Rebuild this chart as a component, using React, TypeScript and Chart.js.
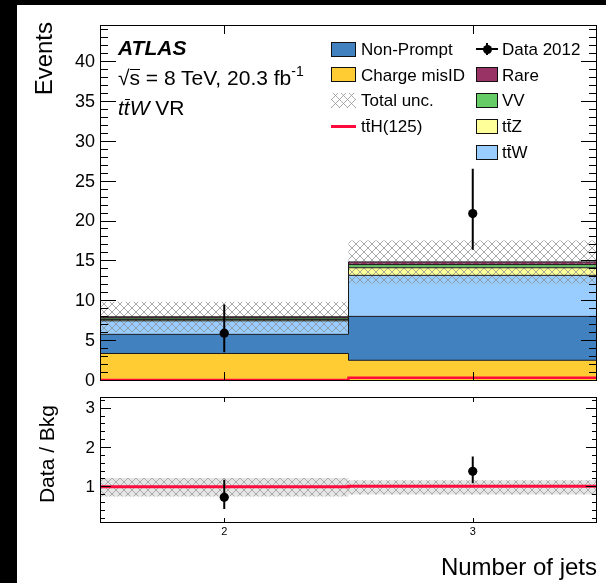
import React, { useEffect, useRef } from 'react';
import { Chart, registerables } from 'chart.js';

Chart.register(...registerables);

// Jet-multiplicity bins
const jetBins = [2, 3];
const binEdges = [1.5, 2.5, 3.5];
const xTickLabels = ['2', '3'];

// Expected events per bin, listed from the bottom of the stack upwards
const chargeMisID = [3.45, 2.6];
const nonPrompt = [2.4, 5.5];
const ttW = [1.7, 5.15];
const ttZ = [0.15, 0.95];
const diboson = [0.2, 0.4];
const rare = [0.15, 0.33];

// ttH(125) signal (not stacked) and total background uncertainty
const ttH125 = [0.12, 0.42];
const totalUnc = [1.9, 2.7];

// Data 2012 with asymmetric Poisson errors
const data2012 = [6, 21];
const dataErrUp = [3.58, 5.62];
const dataErrDown = [2.38, 4.55];

const FONT = "'Liberation Sans', Arial, Helvetica, sans-serif";
const stackSeries = [chargeMisID, nonPrompt, ttW, ttZ, diboson, rare];
const stackColours = ['#ffcc33', '#4281c0', '#99ccff', '#ffff99', '#66cc66', '#993366'];
const TTH_RED = '#ff0a3c';

// histogram step outline: one point per lower bin edge plus the last upper edge
const steps = (vals: number[]) => [
  ...vals.map((v, i) => ({ x: binEdges[i], y: v })),
  { x: binEdges[binEdges.length - 1], y: vals[vals.length - 1] },
];

// vertical error bars, separated by gaps
const errorBars = (centre: number[], lo: number[], hi: number[]) => {
  const pts: any[] = [];
  centre.forEach((c, i) => {
    pts.push({ x: c, y: lo[i] }, { x: c, y: hi[i] }, { x: c + 0.01, y: null });
  });
  return pts;
};

function makeHatch(line: string, bg: string | null) {
  const c = document.createElement('canvas');
  c.width = 8;
  c.height = 8;
  const g = c.getContext('2d')!;
  if (bg) {
    g.fillStyle = bg;
    g.fillRect(0, 0, 8, 8);
  }
  g.strokeStyle = line;
  g.lineWidth = 1;
  g.beginPath();
  for (const d of [-8, 0, 8]) {
    g.moveTo(d - 1, -1);
    g.lineTo(d + 9, 9);
    g.moveTo(d + 9, -1);
    g.lineTo(d - 1, 9);
  }
  g.stroke();
  return g.createPattern(c, 'repeat')!;
}

// axes sized by hand so the plot frame lands where it should
const fixWidth = (w: number) => (s: any) => {
  s.width = w;
  s.paddingTop = 0;
  s.paddingBottom = 0;
  s.paddingLeft = 0;
  s.paddingRight = 0;
};
const fixHeight = (h: number) => (s: any) => {
  s.height = h;
  s.paddingTop = 0;
  s.paddingBottom = 0;
  s.paddingLeft = 0;
  s.paddingRight = 0;
};

// frame with inward-pointing major/minor ticks on all four sides
const frameTicks = {
  id: 'frameTicks',
  afterDatasetsDraw(chart: any, _a: any, o: any) {
    const { ctx, chartArea: a, scales } = chart;
    const x = scales.x;
    const y = scales.y;
    ctx.save();
    ctx.strokeStyle = '#000';
    ctx.lineWidth = 1;
    ctx.beginPath();
    const per = Math.round(o.yMajor / o.yMinor);
    const n0 = Math.ceil(y.min / o.yMinor - 1e-9);
    const n1 = Math.floor(y.max / o.yMinor + 1e-9);
    for (let n = n0; n <= n1; n++) {
      const py = Math.round(y.getPixelForValue(n * o.yMinor)) - 0.5;
      const len = n % per === 0 ? o.yMajorLen : o.yMinorLen;
      ctx.moveTo(a.left, py);
      ctx.lineTo(a.left + len, py);
      ctx.moveTo(a.right, py);
      ctx.lineTo(a.right - len, py);
    }
    for (const v of o.xTicks) {
      const px = Math.round(x.getPixelForValue(v)) + 0.5;
      ctx.moveTo(px, a.bottom);
      ctx.lineTo(px, a.bottom - o.xLen);
      ctx.moveTo(px, a.top);
      ctx.lineTo(px, a.top + o.xLen);
    }
    ctx.stroke();
    ctx.strokeRect(a.left + 0.5, a.top + 0.5, a.right - a.left - 1, a.bottom - a.top - 1);
    ctx.restore();
  },
};

// rotated y-axis title anchored at its top end
const sideTitle = {
  id: 'sideTitle',
  afterDraw(chart: any, _a: any, o: any) {
    if (!o || !o.text) return;
    const { ctx } = chart;
    ctx.save();
    ctx.translate(o.x, o.top);
    ctx.rotate(-Math.PI / 2);
    ctx.font = `${o.size}px ${FONT}`;
    ctx.fillStyle = '#000';
    ctx.textAlign = 'right';
    ctx.textBaseline = 'middle';
    ctx.fillText(o.text, 0, 0);
    ctx.restore();
  },
};

const Bar = ({ children, shift = 0 }: any) => (
  <span style={{ position: 'relative', display: 'inline-block' }}>
    {children}
    <span
      style={{
        position: 'absolute',
        left: `${8 + shift}%`,
        right: `${4 - shift}%`,
        top: '0.08em',
        borderTop: '1.2px solid #000',
      }}
    />
  </span>
);

export default function App() {
  const mainRef = useRef<HTMLCanvasElement>(null);
  const ratioRef = useRef<HTMLCanvasElement>(null);

  useEffect(() => {
    const hatch = makeHatch('rgba(140,140,140,0.75)', null);
    const hatchRatio = makeHatch('rgba(160,160,160,0.85)', 'rgba(220,220,220,0.75)');

    // cumulative stack heights
    const cumulative: number[][] = [];
    let run = jetBins.map(() => 0);
    stackSeries.forEach((arr) => {
      run = run.map((v, i) => v + arr[i]);
      cumulative.push(run);
    });
    const total = cumulative[cumulative.length - 1];
    const bandLo = total.map((t, i) => t - totalUnc[i]);
    const bandHi = total.map((t, i) => t + totalUnc[i]);
    const dataLo = data2012.map((d, i) => d - dataErrDown[i]);
    const dataHi = data2012.map((d, i) => d + dataErrUp[i]);

    const common = {
      responsive: false,
      animation: false,
      events: [],
    };
    const basePlugins = {
      legend: { display: false },
      tooltip: { enabled: false },
      filler: { drawTime: 'beforeDatasetsDraw' },
    };

    const stackSets = cumulative.map((vals, k) => ({
      data: steps(vals),
      stepped: 'before',
      fill: k === 0 ? 'origin' : '-1',
      backgroundColor: stackColours[k],
      borderColor: '#1a1a1a',
      borderWidth: 1,
      pointRadius: 0,
      order: 20 - k,
    }));

    const main = new Chart(mainRef.current!, {
      type: 'line',
      data: {
        datasets: [
          ...stackSets,
          { data: steps(bandLo), stepped: 'before', fill: false, borderWidth: 0, borderColor: 'rgba(0,0,0,0)', pointRadius: 0, order: 3 },
          { data: steps(bandHi), stepped: 'before', fill: '-1', backgroundColor: hatch, borderWidth: 0, borderColor: 'rgba(0,0,0,0)', pointRadius: 0, order: 3 },
          { data: steps(ttH125), stepped: 'before', fill: false, borderColor: TTH_RED, borderWidth: 2.5, pointRadius: 0, order: 2 },
          { data: errorBars(jetBins, dataLo, dataHi), fill: false, borderColor: '#000', borderWidth: 2, pointRadius: 0, spanGaps: false, order: 1 },
          { data: jetBins.map((c, i) => ({ x: c, y: data2012[i] })), showLine: false, pointRadius: 4.6, pointBackgroundColor: '#000', pointBorderWidth: 0, order: 0 },
        ],
      } as any,
      options: {
        ...common,
        layout: { padding: { left: 0, right: 9, top: 25, bottom: 9 } },
        plugins: {
          ...basePlugins,
          frameTicks: { yMajor: 5, yMinor: 1, yMajorLen: 16, yMinorLen: 8, xTicks: jetBins, xLen: 9 },
          sideTitle: { text: 'Events', x: 45, top: 22, size: 24 },
        },
        scales: {
          x: { type: 'linear', min: 1.5, max: 3.5, display: false },
          y: {
            type: 'linear',
            min: 0,
            max: 44.64,
            grid: { display: false, drawTicks: false },
            border: { display: false },
            ticks: { stepSize: 5, includeBounds: false, padding: 5, color: '#000', font: { family: FONT, size: 18 } },
            afterFit: fixWidth(100),
          },
        },
      } as any,
      plugins: [frameTicks, sideTitle],
    });

    const ratio = new Chart(ratioRef.current!, {
      type: 'line',
      data: {
        datasets: [
          { data: steps(bandLo.map((v, i) => v / total[i])), stepped: 'before', fill: false, borderWidth: 0, borderColor: 'rgba(0,0,0,0)', pointRadius: 0, order: 3 },
          { data: steps(bandHi.map((v, i) => v / total[i])), stepped: 'before', fill: '-1', backgroundColor: hatchRatio, borderWidth: 0, borderColor: 'rgba(0,0,0,0)', pointRadius: 0, order: 3 },
          { data: steps(total.map((t, i) => (t + ttH125[i]) / t)), stepped: 'before', fill: false, borderColor: TTH_RED, borderWidth: 3, pointRadius: 0, order: 2 },
          {
            data: errorBars(jetBins, dataLo.map((v, i) => v / total[i]), dataHi.map((v, i) => v / total[i])),
            fill: false, borderColor: '#000', borderWidth: 2, pointRadius: 0, spanGaps: false, order: 1,
          },
          { data: jetBins.map((c, i) => ({ x: c, y: data2012[i] / total[i] })), showLine: false, pointRadius: 4.6, pointBackgroundColor: '#000', pointBorderWidth: 0, order: 0 },
        ],
      } as any,
      options: {
        ...common,
        layout: { padding: { left: 0, right: 9, top: 7, bottom: 0 } },
        plugins: {
          ...basePlugins,
          frameTicks: { yMajor: 1, yMinor: 0.2, yMajorLen: 11, yMinorLen: 5, xTicks: jetBins, xLen: 5 },
          sideTitle: { text: 'Data / Bkg', x: 48, top: 15, size: 21 },
        },
        scales: {
          x: {
            type: 'linear',
            min: 1.5,
            max: 3.5,
            grid: { display: false, drawTicks: false },
            border: { display: false },
            afterBuildTicks: (s: any) => {
              s.ticks = jetBins.map((v) => ({ value: v }));
            },
            ticks: {
              autoSkip: false,
              maxRotation: 0,
              padding: 2,
              color: '#000',
              font: { family: FONT, size: 11 },
              callback: (v: any) => {
                const i = jetBins.indexOf(Number(v));
                return i >= 0 ? xTickLabels[i] : '';
              },
            },
            title: { display: true, text: 'Number of jets', align: 'end', color: '#000', padding: 0, font: { family: FONT, size: 24 } },
            afterFit: fixHeight(60),
          },
          y: {
            type: 'linear',
            min: 0.09,
            max: 3.3,
            grid: { display: false, drawTicks: false },
            border: { display: false },
            ticks: { stepSize: 1, includeBounds: false, padding: 5, color: '#000', font: { family: FONT, size: 17 } },
            afterFit: fixWidth(100),
          },
        },
      } as any,
      plugins: [frameTicks, sideTitle],
    });

    return () => {
      main.destroy();
      ratio.destroy();
    };
  }, []);

  const rowY = [49, 74.8, 100.6, 126.4, 152.2];
  const legendText = (left: number, y: number, content: any) => (
    <div
      style={{
        position: 'absolute',
        left,
        top: y - 8.3,
        whiteSpace: 'nowrap',
        fontFamily: FONT,
        fontSize: 17,
        lineHeight: '17px',
        color: '#000',
      }}
    >
      {content}
    </div>
  );
  const box = (left: number, width: number, y: number, colour: string) => (
    <div
      style={{
        position: 'absolute',
        left,
        top: y - 7.5,
        width,
        height: 15,
        background: colour,
        border: '1px solid #111',
        boxSizing: 'border-box',
      }}
    />
  );
  const hatchCss =
    'repeating-linear-gradient(45deg, rgba(150,150,150,0.8) 0 1px, transparent 1px 5.66px), repeating-linear-gradient(-45deg, rgba(150,150,150,0.8) 0 1px, transparent 1px 5.66px)';
  const labelStyle: any = {
    position: 'absolute',
    left: 118,
    whiteSpace: 'nowrap',
    fontFamily: FONT,
    fontSize: 21,
    lineHeight: '21px',
    color: '#000',
  };

  return (
    <div style={{ position: 'absolute', left: 0, top: 0, width: 606, height: 583, background: '#000', overflow: 'hidden' }}>
      <div style={{ position: 'absolute', left: 17, top: 5, right: 0, bottom: 0, background: '#fff' }} />
      <canvas ref={mainRef} width={606} height={390} style={{ position: 'absolute', left: 0, top: 0, display: 'block' }} />
      <canvas ref={ratioRef} width={606} height={193} style={{ position: 'absolute', left: 0, top: 390, display: 'block' }} />

      <div style={{ ...labelStyle, top: 37.2, fontWeight: 'bold', fontStyle: 'italic' }}>ATLAS</div>
      <div style={{ ...labelStyle, top: 67.2 }}>
        √<Bar>s</Bar> = 8 TeV, 20.3 fb
        <span style={{ fontSize: 14, position: 'relative', top: -9 }}>-1</span>
      </div>
      <div style={{ ...labelStyle, top: 97.2 }}>
        <span style={{ fontStyle: 'italic' }}>
          t<Bar shift={10}>t</Bar>W
        </span>{' '}
        VR
      </div>

      {box(331, 25, rowY[0], '#4281c0')}
      {legendText(361, rowY[0], 'Non-Prompt')}
      {box(331, 25, rowY[1], '#ffcc33')}
      {legendText(361, rowY[1], 'Charge misID')}
      <div style={{ position: 'absolute', left: 331, top: rowY[2] - 7.5, width: 25, height: 15, backgroundImage: hatchCss }} />
      {legendText(361, rowY[2], 'Total unc.')}
      <div style={{ position: 'absolute', left: 331, top: rowY[3] - 1.5, width: 25, height: 3, background: TTH_RED }} />
      {legendText(361, rowY[3], <span>t<Bar>t</Bar>H(125)</span>)}

      <div style={{ position: 'absolute', left: 476, top: rowY[0] - 1, width: 22, height: 2, background: '#000' }} />
      <div style={{ position: 'absolute', left: 486, top: rowY[0] - 6, width: 2, height: 12, background: '#000' }} />
      <div style={{ position: 'absolute', left: 482.5, top: rowY[0] - 4.5, width: 9, height: 9, borderRadius: '50%', background: '#000' }} />
      {legendText(502, rowY[0], 'Data 2012')}
      {box(476, 22, rowY[1], '#993366')}
      {legendText(502, rowY[1], 'Rare')}
      {box(476, 22, rowY[2], '#66cc66')}
      {legendText(502, rowY[2], 'VV')}
      {box(476, 22, rowY[3], '#ffff99')}
      {legendText(502, rowY[3], <span>t<Bar>t</Bar>Z</span>)}
      {box(476, 22, rowY[4], '#99ccff')}
      {legendText(502, rowY[4], <span>t<Bar>t</Bar>W</span>)}
    </div>
  );
}
